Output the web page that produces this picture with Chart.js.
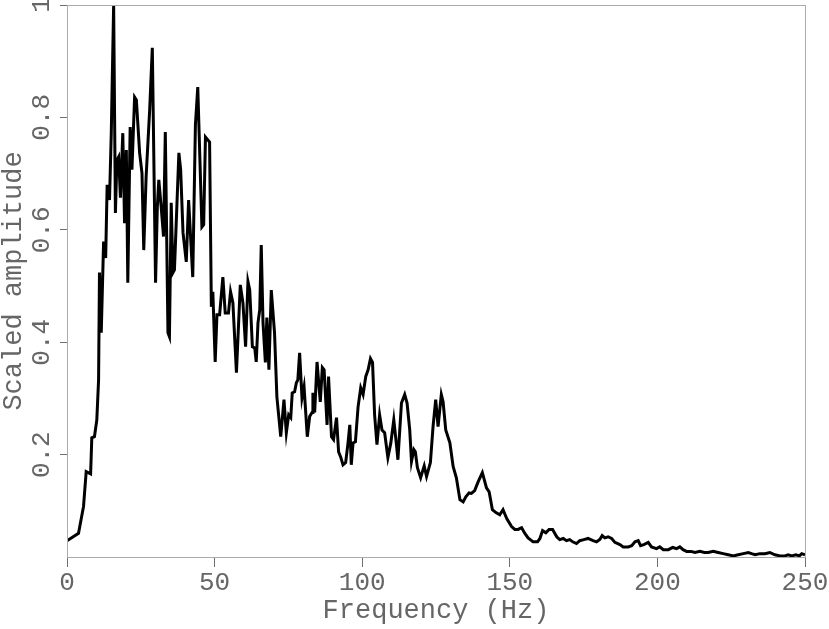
<!DOCTYPE html>
<html>
<head>
<meta charset="utf-8">
<script src="https://cdn.jsdelivr.net/npm/chart.js@4.4.0/dist/chart.umd.min.js"></script>
<style>
    html, body { margin: 0; padding: 0; background: #fff; }
    #wrap { width: 829px; height: 629px; position: relative; }
</style>
</head>
<body>
<div id="wrap"><canvas id="chart"></canvas></div>
<script>
// Amplitude spectrum
const frequency = [
    0, 3.9, 5.6, 6.5, 8.0, 8.4, 9.3, 10.1, 10.7, 11.0,
    11.6, 12.4, 13.1, 13.6, 14.4, 15.0, 15.8, 16.4, 16.9, 17.5,
    18.1, 18.9, 19.5, 20.1, 20.6, 21.4, 22.0, 22.9, 23.5, 24.6,
    25.4, 26.0, 26.8, 28.0, 28.9, 30.0, 30.6, 31.1, 31.9, 32.7,
    33.3, 34.2, 34.7, 35.3, 35.9, 36.4, 37.9, 38.5, 39.3, 40.4,
    41.2, 42.6, 43.5, 44.3, 45.7, 46.3, 46.9, 48.3, 48.9, 49.4,
    50.2, 50.8, 51.7, 52.8, 53.6, 54.7, 55.4, 56.2, 57.4, 58.7,
    59.6, 60.5, 61.3, 61.9, 62.8, 63.6, 64.1, 64.7, 65.3, 65.8,
    66.4, 67.2, 67.7, 68.4, 69.2, 70.3, 71.1, 72.4, 73.5, 74.3,
    75.1, 75.8, 76.3, 77.1, 77.7, 78.2, 78.8, 79.6, 80.3, 81.4,
    82.2, 83.0, 83.3, 83.9, 84.7, 85.8, 86.5, 87.1, 88.1, 88.6,
    89.6, 90.3, 91.3, 92.0, 92.7, 93.5, 94.4, 95.2, 95.8, 96.3,
    96.9, 97.7, 98.6, 99.5, 100.3, 101.2, 102.0, 102.8, 103.5, 104.2,
    105.0, 105.9, 106.7, 107.6, 108.7, 109.7, 110.7, 111.6, 112.1, 113.3,
    114.4, 115.2, 116.1, 116.7, 117.5, 118.0, 118.7, 119.8, 121.0, 121.8,
    123.1, 124.0, 124.9, 125.7, 126.8, 127.4, 128.3, 129.7, 130.8, 131.9,
    133.1, 134.2, 135.1, 136.2, 137.0, 138.1, 139.3, 140.7, 142.1, 143.0,
    144.1, 145.3, 146.6, 147.7, 149.0, 150.6, 151.7, 152.8, 154.0, 155.1,
    156.2, 157.9, 159.4, 160.2, 161.1, 162.2, 163.3, 164.5, 165.9, 166.9,
    168.1, 169.2, 170.3, 171.3, 172.6, 173.7, 175.1, 176.5, 178.2, 179.4,
    180.5, 181.3, 182.2, 183.3, 184.5, 185.6, 187.3, 188.4, 190.1, 191.3,
    192.4, 193.5, 194.3, 195.4, 196.9, 198.0, 199.7, 200.8, 202.0, 203.7,
    205.2, 206.5, 207.6, 208.7, 209.9, 211.4, 212.7, 214.4, 215.9, 217.2,
    218.9, 220.6, 222.3, 224.0, 225.7, 227.4, 229.1, 230.8, 231.9, 233.1,
    234.7, 236.4, 238.1, 239.8, 241.5, 243.2, 244.3, 245.5, 246.9, 248.1,
    248.9, 250.0
];

const amplitude = [
    0.047, 0.060, 0.108, 0.170, 0.166, 0.230, 0.232, 0.262, 0.333, 0.524,
    0.417, 0.579, 0.550, 0.680, 0.653, 0.772, 1.000, 0.630, 0.724, 0.730,
    0.657, 0.772, 0.612, 0.742, 0.506, 0.783, 0.707, 0.836, 0.831, 0.737,
    0.701, 0.564, 0.694, 0.813, 0.924, 0.506, 0.641, 0.689, 0.641, 0.588,
    0.774, 0.417, 0.410, 0.648, 0.524, 0.529, 0.737, 0.707, 0.595, 0.543,
    0.653, 0.516, 0.787, 0.854, 0.605, 0.609, 0.765, 0.756, 0.463, 0.490,
    0.365, 0.449, 0.449, 0.516, 0.452, 0.452, 0.490, 0.470, 0.346, 0.502,
    0.470, 0.392, 0.508, 0.493, 0.392, 0.390, 0.365, 0.435, 0.458, 0.573,
    0.435, 0.364, 0.444, 0.351, 0.493, 0.417, 0.303, 0.232, 0.298, 0.239,
    0.271, 0.266, 0.310, 0.312, 0.328, 0.333, 0.381, 0.301, 0.321, 0.232,
    0.268, 0.275, 0.310, 0.275, 0.365, 0.294, 0.355, 0.351, 0.253, 0.339,
    0.232, 0.227, 0.266, 0.205, 0.196, 0.182, 0.186, 0.221, 0.253, 0.182,
    0.221, 0.223, 0.285, 0.319, 0.307, 0.339, 0.351, 0.371, 0.364, 0.271,
    0.218, 0.271, 0.244, 0.239, 0.195, 0.221, 0.262, 0.218, 0.191, 0.292,
    0.307, 0.292, 0.244, 0.188, 0.209, 0.205, 0.177, 0.159, 0.180, 0.161,
    0.186, 0.250, 0.298, 0.250, 0.307, 0.294, 0.244, 0.221, 0.179, 0.159,
    0.120, 0.116, 0.125, 0.132, 0.131, 0.136, 0.152, 0.168, 0.141, 0.134,
    0.102, 0.097, 0.093, 0.102, 0.086, 0.072, 0.067, 0.067, 0.070, 0.060,
    0.052, 0.045, 0.045, 0.051, 0.065, 0.061, 0.067, 0.067, 0.054, 0.049,
    0.051, 0.047, 0.049, 0.045, 0.042, 0.047, 0.049, 0.051, 0.047, 0.045,
    0.049, 0.056, 0.052, 0.054, 0.051, 0.044, 0.040, 0.036, 0.036, 0.038,
    0.045, 0.047, 0.038, 0.040, 0.044, 0.036, 0.033, 0.036, 0.031, 0.031,
    0.035, 0.033, 0.036, 0.031, 0.028, 0.028, 0.026, 0.028, 0.026, 0.026,
    0.028, 0.026, 0.024, 0.022, 0.020, 0.022, 0.024, 0.026, 0.024, 0.022,
    0.024, 0.024, 0.026, 0.022, 0.020, 0.020, 0.022, 0.020, 0.022, 0.020,
    0.024, 0.022
];

const xTicks = [0, 50, 100, 150, 200, 250];
const yTicks = [0.2, 0.4, 0.6, 0.8, 1];

const FONT = "'Liberation Mono', 'DejaVu Sans Mono', monospace";
const TEXT_COLOR = '#666666';
const TICK_COLOR = '#707070';
const FRAME_COLOR = '#ababab';

// light grey box around the plot area
const framePlugin = {
    id: 'frame',
    afterDraw(chart) {
        const { ctx, chartArea: a } = chart;
        ctx.save();
        ctx.strokeStyle = FRAME_COLOR;
        ctx.lineWidth = 1;
        ctx.strokeRect(Math.round(a.left) + 0.5, Math.round(a.top) + 0.5,
            Math.round(a.right - a.left), Math.round(a.bottom - a.top));
        ctx.restore();
    }
};

// keep the tick labels from pushing the plot area around
function noLabelPadding(s) {
    s.paddingTop = 0;
    s.paddingBottom = 0;
    s.paddingLeft = 0;
    s.paddingRight = 0;
}

const points = frequency.map((f, i) => ({ x: f, y: amplitude[i] }));

new Chart(document.getElementById('chart'), {
    type: 'line',
    data: {
        datasets: [{
            data: points,
            borderColor: '#000',
            borderWidth: 3,
            pointRadius: 0,
            tension: 0,
            fill: false
        }]
    },
    options: {
        responsive: true,
        maintainAspectRatio: false,
        animation: false,
        layout: { padding: { top: 5, right: 24, left: 0, bottom: 0 } },
        plugins: {
            legend: { display: false },
            tooltip: { enabled: false }
        },
        scales: {
            x: {
                type: 'linear',
                min: 0,
                max: 250,
                afterBuildTicks: s => { s.ticks = xTicks.map(v => ({ value: v })); },
                afterFit: s => { s.height = 72; noLabelPadding(s); },
                grid: {
                    drawOnChartArea: false,
                    drawTicks: true,
                    tickLength: 10,
                    tickColor: TICK_COLOR
                },
                border: { color: FRAME_COLOR },
                ticks: {
                    color: TEXT_COLOR,
                    font: { family: FONT, size: 26 },
                    padding: 1,
                    maxRotation: 0,
                    autoSkip: false,
                    callback: v => String(v)
                },
                title: {
                    display: true,
                    text: 'Frequency (Hz)',
                    color: TEXT_COLOR,
                    font: { family: FONT, size: 27, lineHeight: 1 },
                    padding: { top: 0, bottom: 5 }
                }
            },
            y: {
                type: 'linear',
                min: 0.018,
                max: 1,
                afterBuildTicks: s => { s.ticks = yTicks.map(v => ({ value: v })); },
                afterFit: s => { s.width = 67; noLabelPadding(s); },
                grid: {
                    drawOnChartArea: false,
                    drawTicks: true,
                    tickLength: 7,
                    tickColor: TICK_COLOR
                },
                border: { color: FRAME_COLOR },
                ticks: {
                    color: TEXT_COLOR,
                    font: { family: FONT, size: 26 },
                    minRotation: 90,
                    maxRotation: 90,
                    crossAlign: 'center',
                    padding: -6,
                    autoSkip: false,
                    callback: v => String(v)
                },
                title: {
                    display: true,
                    text: 'Scaled amplitude',
                    color: TEXT_COLOR,
                    font: { family: FONT, size: 27, lineHeight: 1 },
                    padding: { top: 0, bottom: 0 }
                }
            }
        }
    },
    plugins: [framePlugin]
});
</script>
</body>
</html>
